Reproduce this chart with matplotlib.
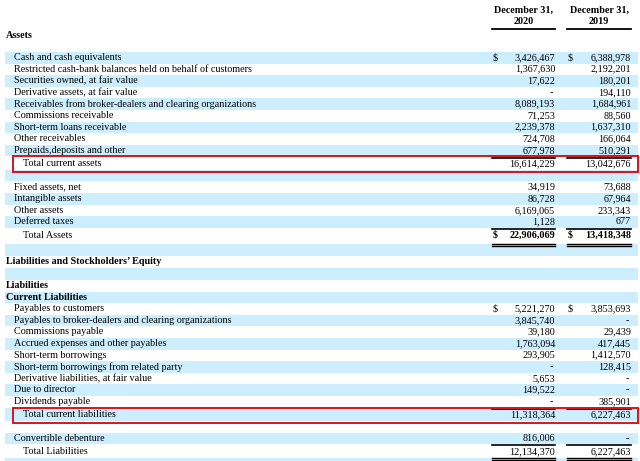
import matplotlib
matplotlib.use("Agg")
import matplotlib.pyplot as plt
from matplotlib.patches import Rectangle

# balance sheet rows (None = "-", "" label = blank row)
labels = [
    "Cash and cash equivalents",
    "Restricted cash-bank balances held on behalf of customers",
    "Securities owned, at fair value",
    "Derivative assets, at fair value",
    "Receivables from broker-dealers and clearing organizations",
    "Commissions receivable",
    "Short-term loans receivable",
    "Other receivables",
    "Prepaids,deposits and other",
    "Total current assets",
    "",
    "Fixed assets, net",
    "Intangible assets",
    "Other assets",
    "Deferred taxes",
    "Total Assets",
    "",
    "Liabilities and Stockholders\u2019 Equity",
    "",
    "Liabilities",
    "Current Liabilities",
    "Payables to customers",
    "Payables to broker-dealers and clearing organizations",
    "Commissions payable",
    "Accrued expenses and other payables",
    "Short-term borrowings",
    "Short-term borrowings from related party",
    "Derivative liabilities, at fair value",
    "Due to director",
    "Dividends payable",
    "Total current liabilities",
    "",
    "Convertible debenture",
    "Total Liabilities",
    "",
]
vals_2020 = [3426467, 1367630, 17622, None, 8089193, 71253, 2239378, 724708, 677978,
             16614229, "", 34919, 86728, 6169065, 1128, 22906069, "", "", "", "", "",
             5221270, 3845740, 39180, 1763094, 293905, None, 5653, 149522, None,
             11318364, "", 816006, 12134370, ""]
vals_2019 = [6388978, 2192201, 180201, 194110, 1684961, 88560, 1637310, 166064, 510291,
             13042676, "", 73688, 67964, 233343, 677, 13418348, "", "", "", "", "",
             3853693, None, 29439, 417445, 1412570, 128415, None, None, 385901,
             6227463, "", None, 6227463, ""]
kinds = ["item"] * 9 + ["total", "blank"] + ["item"] * 4 + ["grand", "blank", "header",
         "blank", "header", "header"] + ["item"] * 9 + ["total", "blank", "item", "grand", "blank"]
dollar_rows = [0, 15, 21]
boxed_rows = [9, 30]
headers = ["December 31,\n2020", "December 31,\n2019"]

BLUE = "#cceeff"
FONT = "Liberation Serif"
FS = 7.3

# row heights in px
heights = []
for i, k in enumerate(kinds):
    if k == "grand" and i == 15:
        heights.append(16.0)
    elif k in ("total", "grand"):
        heights.append(13.5)
    elif i in (16, 17):
        heights.append(12.2)
    else:
        heights.append(11.6)
tops = [52.0]
for h in heights[:-1]:
    tops.append(tops[-1] + h)

col_sign = [493, 568]
col_right = [555, 631]
col_left = [492, 567]

fig = plt.figure(figsize=(6.4, 4.61), dpi=100)
ax = fig.add_axes([0, 0, 1, 1])
ax.set_xlim(0, 640)
ax.set_ylim(461, 0)
ax.axis("off")

# stripes
for i in range(len(labels)):
    if i % 2 == 0:
        ax.barh(tops[i] + heights[i] / 2, 633, height=heights[i], left=5,
                color=BLUE, linewidth=0, zorder=0)

# column headers
for c in range(2):
    cx = (col_left[c] + col_right[c]) / 2
    ax.text(cx, 16, headers[c], ha="center", va="center", fontsize=FS,
            fontweight="bold", family=FONT, linespacing=1.3)
    ax.plot([col_left[c], col_right[c]], [29, 29], color="black", lw=1.3)
ax.text(6, 36, "Assets", ha="left", va="center", fontsize=FS, fontweight="bold", family=FONT)

def fmt(v):
    if v is None:
        return "-"
    if v == "":
        return ""
    return f"{v:,}"

for i, lab in enumerate(labels):
    k = kinds[i]
    top = tops[i]
    cy = top + 5.6
    if k == "total" or k == "grand":
        cy = top + 7.2
    if k == "header":
        ax.text(6, cy, lab, ha="left", va="center", fontsize=FS,
                fontweight="bold", family=FONT)
        continue
    if k == "blank":
        continue
    x = 23 if k in ("total", "grand") else 14
    bold = "bold" if k == "grand" and i == 15 else "normal"
    ax.text(x, cy, lab, ha="left", va="center", fontsize=FS, family=FONT)
    for c, vals in enumerate([vals_2020, vals_2019]):
        s = fmt(vals[i])
        xr = col_right[c] - (1.5 if vals[i] is None else 0)
        ax.text(xr, cy, s, ha="right", va="center", fontsize=FS, family=FONT,
                fontweight=bold)
        if i in dollar_rows:
            ax.text(col_sign[c], cy, "$", ha="left", va="center", fontsize=FS,
                    family=FONT, fontweight=bold)
        if k in ("total", "grand"):
            ax.plot([col_left[c], col_right[c]], [top + 1.2, top + 1.2],
                    color="black", lw=1.2)
        if k == "grand":
            yb = top + heights[i]
            ax.plot([col_left[c], col_right[c]], [yb, yb], color="black", lw=1.0)
            ax.plot([col_left[c], col_right[c]], [yb + 2.3, yb + 2.3], color="black", lw=1.0)

# red boxes around the current totals
for i in boxed_rows:
    ax.add_patch(Rectangle((13, tops[i]), 625, heights[i] + 2, fill=False,
                           edgecolor="#e0101a", lw=1.4, zorder=5))

fig.savefig("out.png", dpi=100)
